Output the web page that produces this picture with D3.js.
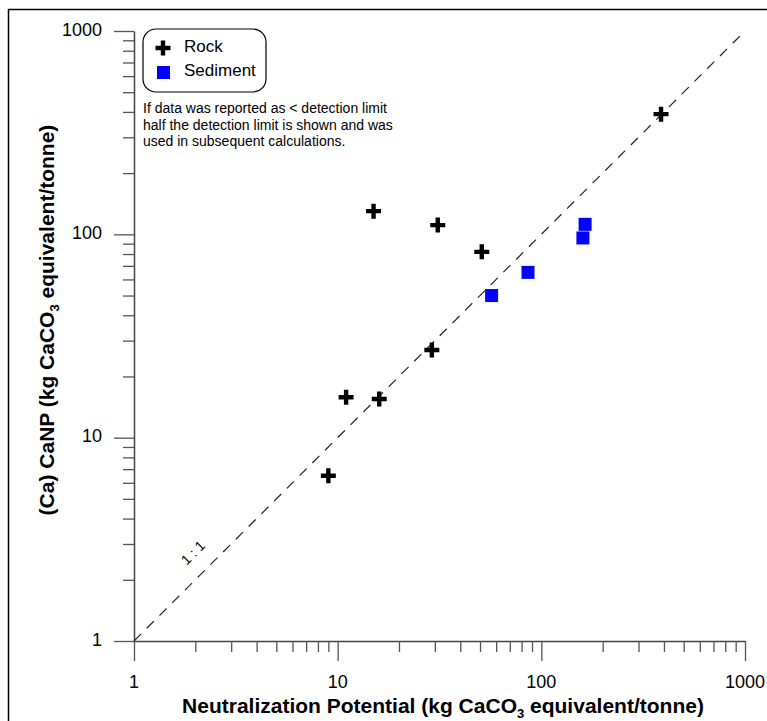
<!DOCTYPE html>
<html>
<head>
<meta charset="utf-8">
<script src="https://cdn.jsdelivr.net/npm/d3@7"></script>
<style>
  body { margin: 0; background: #fff; }
  svg { font-family: "Liberation Sans", Arial, sans-serif; }
</style>
</head>
<body>
<div id="chart"></div>
<script>
// rock samples: NP vs CaNP
var rockNP   = [387, 15, 31, 51, 29, 11, 16, 9];
var rockCaNP = [390, 130, 111, 82, 27, 15.8, 15.5, 6.5];
// sediment samples
var sedNP   = [164, 160, 86, 57];
var sedCaNP = [112, 96, 65, 50];

var majorTicks = [1, 10, 100, 1000];
var noteLines = [
  "If data was reported as < detection limit",
  "half the detection limit is shown and was",
  "used in subsequent calculations."
];

var width = 767, height = 721;

var svg = d3.select("#chart").append("svg")
    .attr("width", width)
    .attr("height", height);

// outer frame (only top/left show)
svg.append("rect")
    .attr("x", 8.5).attr("y", 9.5)
    .attr("width", 900).attr("height", 900)
    .attr("fill", "none").attr("stroke", "#000").attr("stroke-width", 1.5);

var x = d3.scaleLog().domain([1, 1000]).range([134, 745]);
var y = d3.scaleLog().domain([1, 1000]).range([641, 31]);

// all ticks 1..9 per decade
var allTicks = [];
[1, 10, 100].forEach(function(d) {
  for (var i = 1; i < 10; i++) allTicks.push(d * i);
});
allTicks.push(1000);

function isMajor(v) { return majorTicks.indexOf(v) >= 0; }

var xAxis = svg.append("g")
    .attr("transform", "translate(0,641)")
    .call(d3.axisBottom(x).tickValues(allTicks).tickSizeOuter(0).tickFormat(""));
xAxis.selectAll(".tick line").attr("y2", function(d) { return isMajor(d) ? 20 : 11; });

var yAxis = svg.append("g")
    .attr("transform", "translate(134,0)")
    .call(d3.axisLeft(y).tickValues(allTicks).tickSizeOuter(0).tickFormat(""));
yAxis.selectAll(".tick line").attr("x2", function(d) { return isMajor(d) ? -20 : -11; });

svg.selectAll(".domain").attr("stroke", "#444").attr("stroke-width", 1.5);
svg.selectAll(".tick line").attr("stroke", "#555").attr("stroke-width", 1.3);

// tick labels
svg.selectAll(".xlab").data(majorTicks).enter().append("text")
    .attr("x", function(d) { return x(d); })
    .attr("y", 683)
    .attr("text-anchor", "middle")
    .attr("dominant-baseline", "middle")
    .attr("font-size", 18)
    .text(function(d) { return d; });

svg.selectAll(".ylab").data(majorTicks).enter().append("text")
    .attr("x", 102)
    .attr("y", function(d) { return y(d); })
    .attr("text-anchor", "end")
    .attr("dominant-baseline", "middle")
    .attr("font-size", 18)
    .text(function(d) { return d; });

// axis titles
var xt = svg.append("text")
    .attr("x", 443).attr("y", 713)
    .attr("text-anchor", "middle")
    .attr("font-size", 21).attr("font-weight", "bold");
xt.append("tspan").text("Neutralization Potential (kg CaCO");
xt.append("tspan").attr("font-size", 13).attr("dy", 5).text("3");
xt.append("tspan").attr("dy", -5).text(" equivalent/tonne)");

var yt = svg.append("text")
    .attr("transform", "translate(54,320) rotate(-90)")
    .attr("text-anchor", "middle")
    .attr("font-size", 21).attr("font-weight", "bold");
yt.append("tspan").text("(Ca) CaNP (kg CaCO");
yt.append("tspan").attr("font-size", 13).attr("dy", 5).text("3");
yt.append("tspan").attr("dy", -5).text(" equivalent/tonne)");

// 1:1 line
svg.append("line")
    .attr("x1", x(1)).attr("y1", y(1))
    .attr("x2", x(1000)).attr("y2", y(1000))
    .attr("stroke", "#222").attr("stroke-width", 1.2)
    .attr("stroke-dasharray", "10,8");

svg.append("text")
    .attr("transform", "translate(" + (x(2.3) - 14) + "," + (y(2.3) - 14) + ") rotate(-45)")
    .attr("text-anchor", "middle")
    .attr("dominant-baseline", "middle")
    .attr("font-size", 14)
    .text("1 : 1");

// markers
var crossPath = "M-2.2,-7.5H2.2V-2.2H7.5V2.2H2.2V7.5H-2.2V2.2H-7.5V-2.2H-2.2Z";

svg.selectAll(".rock").data(rockNP).enter().append("path")
    .attr("d", crossPath)
    .attr("transform", function(d, i) { return "translate(" + x(d) + "," + y(rockCaNP[i]) + ")"; })
    .attr("fill", "#000");

svg.selectAll(".sed").data(sedNP).enter().append("rect")
    .attr("x", function(d) { return x(d) - 6.5; })
    .attr("y", function(d, i) { return y(sedCaNP[i]) - 6.5; })
    .attr("width", 13).attr("height", 13)
    .attr("fill", "#0000ff");

// legend
var lg = svg.append("g");
lg.append("rect")
    .attr("x", 143).attr("y", 29).attr("width", 123).attr("height", 63)
    .attr("rx", 13).attr("fill", "#fff").attr("stroke", "#000").attr("stroke-width", 1.2);
lg.append("path").attr("d", crossPath).attr("transform", "translate(163,48)").attr("fill", "#000");
lg.append("rect").attr("x", 157).attr("y", 66).attr("width", 13).attr("height", 13).attr("fill", "#0000ff");
lg.append("text").attr("x", 184).attr("y", 48).attr("dominant-baseline", "middle")
    .attr("font-size", 17).text("Rock");
lg.append("text").attr("x", 184).attr("y", 72).attr("dominant-baseline", "middle")
    .attr("font-size", 17).text("Sediment");

svg.selectAll(".note").data(noteLines).enter().append("text")
    .attr("x", 143)
    .attr("y", function(d, i) { return 113 + i * 16.5; })
    .attr("font-size", 14)
    .text(function(d) { return d; });
</script>
</body>
</html>
